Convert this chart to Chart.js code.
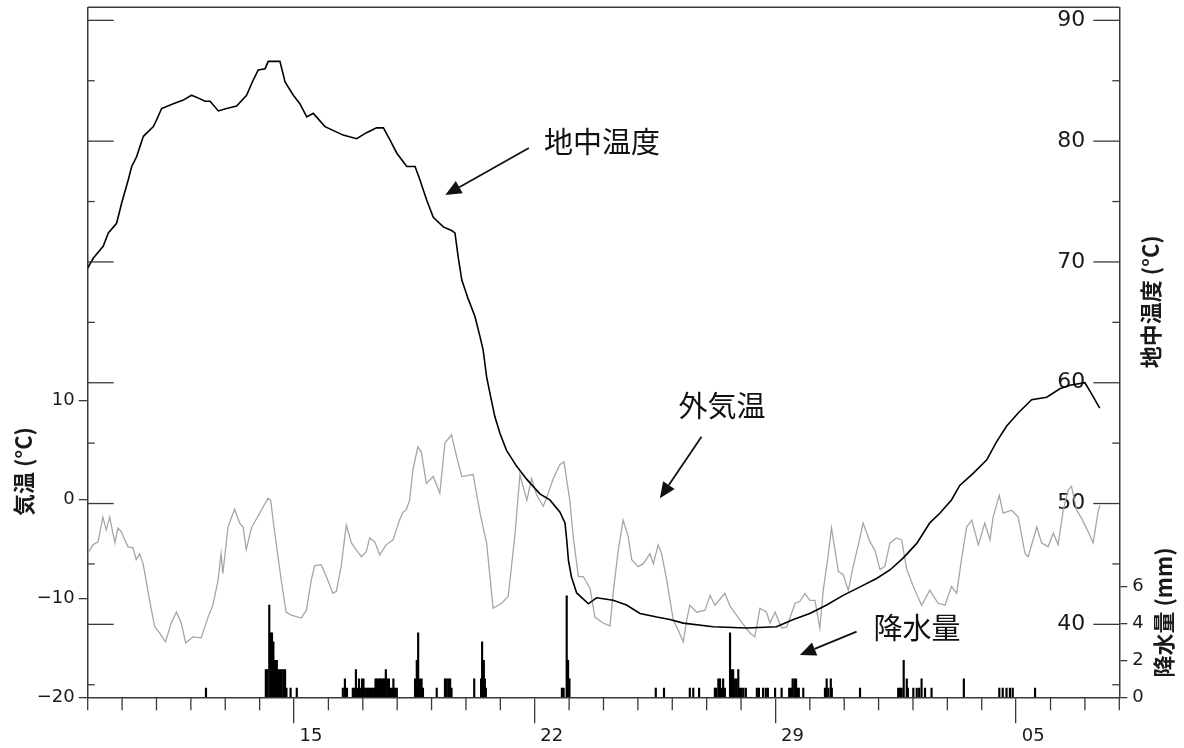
<!DOCTYPE html>
<html>
<head>
<meta charset="utf-8">
<script src="https://cdn.jsdelivr.net/npm/chart.js@4.4.1/dist/chart.umd.min.js"></script>
<style>
  body { margin: 0; background: #fff; }
  #wrap { width: 1184px; height: 748px; }
</style>
</head>
<body>
<div id="wrap"><canvas id="soil-chart" width="1184" height="748"></canvas></div>
<script>
// x values are days counted from the 9th, 00:00
const dateTicks = [6, 13, 20, 27];
const dateLabels = ['15', '22', '29', '05'];

const airTicks = [-20, -10, 0, 10];
const groundTicks = [40, 50, 60, 70, 80, 90];
const rainTicks = [0, 2, 4, 6];

const groundDays = [0.00, 0.16, 0.45, 0.60, 0.84, 0.99, 1.18, 1.28, 1.42, 1.62, 1.91, 2.01, 2.15, 2.49, 2.78, 3.02, 3.27, 3.41, 3.56, 3.80,
  4.04, 4.33, 4.62, 4.82, 4.96, 5.16, 5.25, 5.59, 5.74, 5.98, 6.17, 6.37, 6.56, 6.90, 7.43, 7.82, 8.11, 8.40, 8.60, 8.79,
  8.99, 9.28, 9.52, 9.66, 9.86, 10.05, 10.34, 10.58, 10.68, 10.78, 10.88, 11.07, 11.26, 11.41, 11.50, 11.60, 11.70, 11.84, 11.99, 12.18,
  12.47, 12.77, 13.15, 13.44, 13.73, 13.88, 13.93, 13.98, 14.07, 14.22, 14.56, 14.80, 15.28, 15.67, 16.06, 16.55, 16.93, 17.32, 18.19, 19.16,
  20.03, 20.52, 21.00, 21.49, 21.97, 22.46, 22.94, 23.33, 23.72, 24.11, 24.49, 24.78, 25.12, 25.36, 25.75, 26.14, 26.43, 26.72, 27.06, 27.45,
  27.89, 28.27, 28.56, 29.00, 29.19, 29.43];
const groundTemp = [69.5, 70.3, 71.3, 72.4, 73.2, 74.9, 76.8, 77.9, 78.7, 80.4, 81.2, 81.8, 82.7, 83.1, 83.4, 83.8, 83.5, 83.3, 83.3, 82.5,
  82.7, 82.9, 83.8, 85.1, 85.9, 86.0, 86.6, 86.6, 84.9, 83.8, 83.1, 82.0, 82.3, 81.2, 80.5, 80.2, 80.7, 81.1, 81.1, 80.1,
  79.0, 77.9, 77.9, 76.8, 75.1, 73.7, 72.9, 72.6, 72.4, 70.3, 68.5, 66.9, 65.5, 63.8, 62.7, 60.5, 59.1, 57.2, 55.8, 54.4,
  53.1, 52.0, 50.8, 50.3, 49.3, 48.4, 47.0, 45.3, 43.9, 42.6, 41.7, 42.2, 42.0, 41.6, 40.9, 40.6, 40.4, 40.1, 39.8, 39.7,
  39.8, 40.4, 40.9, 41.6, 42.4, 43.1, 43.8, 44.5, 45.5, 46.7, 48.4, 49.2, 50.3, 51.5, 52.5, 53.6, 55.1, 56.4, 57.5, 58.6,
  58.8, 59.5, 59.8, 60.0, 59.1, 57.9];

const airDays = [0.00, 0.15, 0.30, 0.44, 0.54, 0.64, 0.79, 0.88, 0.98, 1.17, 1.32, 1.41, 1.51, 1.61, 1.80, 1.95, 2.09, 2.26, 2.43, 2.58,
  2.72, 2.85, 3.06, 3.30, 3.50, 3.64, 3.79, 3.88, 3.93, 4.08, 4.27, 4.42, 4.52, 4.61, 4.76, 5.05, 5.24, 5.32, 5.44, 5.63,
  5.77, 5.92, 6.21, 6.36, 6.50, 6.60, 6.79, 6.94, 7.13, 7.23, 7.37, 7.52, 7.67, 7.81, 7.96, 8.10, 8.20, 8.35, 8.49, 8.68,
  8.88, 9.07, 9.17, 9.26, 9.36, 9.46, 9.60, 9.70, 9.85, 10.05, 10.24, 10.39, 10.58, 10.73, 10.88, 11.21, 11.41, 11.60, 11.79, 12.04,
  12.23, 12.43, 12.57, 12.77, 12.91, 13.06, 13.25, 13.39, 13.54, 13.73, 13.85, 14.02, 14.12, 14.27, 14.41, 14.61, 14.75, 14.99, 15.19, 15.28,
  15.43, 15.57, 15.72, 15.82, 16.01, 16.16, 16.35, 16.45, 16.59, 16.69, 16.84, 17.03, 17.17, 17.32, 17.42, 17.51, 17.71, 17.95, 18.10, 18.24,
  18.53, 18.68, 18.97, 19.26, 19.40, 19.55, 19.74, 19.84, 19.99, 20.18, 20.33, 20.57, 20.71, 20.86, 21.00, 21.15, 21.29, 21.39, 21.54, 21.63,
  21.73, 21.83, 21.97, 22.12, 22.26, 22.41, 22.55, 22.75, 22.89, 23.04, 23.18, 23.33, 23.52, 23.67, 23.82, 24.01, 24.25, 24.49, 24.73, 24.93,
  25.12, 25.27, 25.41, 25.56, 25.71, 25.90, 26.09, 26.24, 26.33, 26.51, 26.62, 26.87, 27.06, 27.26, 27.35, 27.60, 27.74, 27.93, 28.08, 28.22,
  28.37, 28.51, 28.61, 28.76, 28.90, 29.10, 29.24, 29.39, 29.44];
const airTemp = [-5.5, -4.6, -4.3, -1.8, -3.1, -1.8, -4.4, -2.9, -3.3, -4.8, -4.9, -6.1, -5.5, -6.5, -10.2, -12.9, -13.5, -14.4, -12.5, -11.4,
  -12.5, -14.5, -13.9, -14.0, -11.9, -10.7, -8.2, -5.5, -7.5, -2.8, -1.0, -2.4, -2.8, -5.1, -2.9, -1.1, 0.1, -0.1, -3.4, -8.2,
  -11.4, -11.7, -12.0, -11.2, -8.2, -6.7, -6.6, -7.8, -9.5, -9.3, -6.8, -2.6, -4.4, -5.1, -5.8, -5.3, -3.9, -4.3, -5.6, -4.6,
  -4.1, -2.1, -1.3, -1.1, -0.1, 3.0, 5.3, 4.8, 1.6, 2.3, 0.6, 5.7, 6.5, 4.3, 2.3, 2.5, -1.4, -4.4, -11.0, -10.5,
  -9.8, -3.4, 2.5, -0.1, 2.1, 0.4, -0.7, 0.6, 2.1, 3.5, 3.8, -0.1, -3.8, -7.8, -7.8, -9.0, -11.9, -12.5, -12.8, -9.5,
  -5.1, -2.1, -3.8, -6.1, -6.8, -6.5, -5.5, -6.5, -4.6, -5.5, -8.2, -12.2, -13.2, -14.4, -12.2, -10.7, -11.4, -11.2, -9.7, -10.7,
  -9.5, -10.8, -12.2, -13.5, -13.9, -11.0, -11.4, -12.5, -11.4, -13.0, -12.9, -10.5, -10.3, -9.5, -10.2, -10.2, -13.0, -9.2, -5.5, -2.9,
  -5.1, -7.3, -7.6, -9.2, -6.8, -4.6, -2.4, -4.3, -5.1, -7.1, -6.8, -4.4, -3.9, -4.1, -7.1, -8.8, -10.7, -9.2, -10.5, -10.7,
  -8.8, -9.5, -6.1, -2.8, -2.1, -4.6, -2.4, -4.1, -1.8, 0.4, -1.4, -1.1, -1.8, -5.5, -5.8, -2.8, -4.4, -4.8, -3.4, -4.6,
  -1.1, 0.9, 1.3, -1.1, -1.9, -3.3, -4.4, -1.1, -0.6];

const rainDays = [3.44, 5.18, 5.22, 5.28, 5.32, 5.36, 5.40, 5.45, 5.50, 5.54, 5.59, 5.64, 5.69, 5.74, 5.78, 5.90, 6.08,
  7.42, 7.48, 7.54, 7.71, 7.76, 7.80, 7.85, 7.89, 7.93, 7.98, 8.02, 8.06, 8.11, 8.15, 8.19, 8.24, 8.28, 8.33, 8.37, 8.41,
  8.46, 8.50, 8.54, 8.59, 8.63, 8.67, 8.72, 8.76, 8.80, 8.85, 8.89, 8.94, 8.99,
  9.52, 9.57, 9.61, 9.66, 9.71, 9.75, 10.15, 10.39, 10.44, 10.49, 10.54, 10.58, 11.24, 11.44, 11.47, 11.52, 11.55, 11.58,
  13.79, 13.84, 13.93, 13.97, 14.01, 16.52, 16.76, 17.51, 17.61, 17.78,
  18.24, 18.28, 18.34, 18.39, 18.44, 18.48, 18.53, 18.68, 18.73, 18.77, 18.82, 18.87, 18.92, 18.97, 19.02, 19.07, 19.14,
  19.46, 19.52, 19.64, 19.72, 19.78, 19.99, 20.18, 20.40, 20.45, 20.50, 20.55, 20.60, 20.65, 20.68, 20.81,
  21.44, 21.49, 21.54, 21.61, 21.64, 22.46, 23.57, 23.62, 23.67, 23.73, 23.82, 23.85,
  24.01, 24.11, 24.18, 24.25, 24.35, 24.54, 25.48, 26.51, 26.61, 26.72, 26.82, 26.90, 27.55];
const rainMm = [0.5, 1.5, 1.5, 5.0, 3.5, 3.5, 3.0, 2.0, 2.0, 1.5, 1.5, 1.5, 1.5, 1.5, 0.5, 0.5, 0.5,
  0.5, 1.0, 0.5, 0.5, 0.5, 1.5, 0.5, 1.0, 0.5, 1.0, 1.0, 0.5, 0.5, 0.5, 0.5, 0.5, 0.5, 0.5, 1.0, 1.0,
  1.0, 1.0, 1.0, 1.0, 1.0, 1.5, 1.0, 1.0, 0.5, 0.5, 1.0, 0.5, 0.5,
  1.0, 2.0, 3.5, 1.0, 1.0, 0.5, 0.5, 1.0, 1.0, 1.0, 1.0, 0.5, 1.0, 1.0, 3.0, 2.0, 1.0, 0.5,
  0.5, 0.5, 5.5, 2.0, 1.0, 0.5, 0.5, 0.5, 0.5, 0.5,
  0.5, 0.5, 1.0, 1.0, 0.5, 1.0, 0.5, 3.5, 1.5, 1.5, 1.0, 1.0, 1.5, 0.5, 0.5, 0.5, 0.5,
  0.5, 0.5, 0.5, 0.5, 0.5, 0.5, 0.5, 0.5, 0.5, 1.0, 1.0, 1.0, 0.5, 0.5, 0.5,
  0.5, 1.0, 0.5, 1.0, 0.5, 0.5, 0.5, 0.5, 0.5, 2.0, 1.0, 0.5,
  0.5, 0.5, 0.5, 1.0, 0.5, 0.5, 1.0, 0.5, 0.5, 0.5, 0.5, 0.5, 0.5];

const AXIS_COLOR = '#3a3a3a';
const TEXT_COLOR = '#1a1a1a';
const TICK_FONT = 'DejaVu Sans';
const CJK_FONT = '"Noto Sans CJK JP"';

// axis titles, placed against the scale they belong to
const axisTitles = [
  { text: '気温 (°C)', axis: 'yAir', value: 2.8, dx: -64 },
  { text: '地中温度 (°C)', axis: 'yGround', value: 66.7, dx: 31 },
  { text: '降水量 (mm)', axis: 'yRain', value: 4.6, dx: 44 }
];

// arrow labels in data coordinates [day, value]
const notes = [
  { text: '地中温度', axis: 'yGround', label: [13.27, 79.9], from: [12.83, 79.44], to: [10.40, 75.54] },
  { text: '外気温', axis: 'yAir', label: [17.18, 9.47], from: [17.85, 6.32], to: [16.64, 0.1] },
  { text: '降水量', axis: 'yRain', label: [22.85, 3.76], from: [22.36, 3.56], to: [20.71, 2.29] }
];

function line(ctx, x1, y1, x2, y2) {
  ctx.beginPath();
  ctx.moveTo(x1, y1);
  ctx.lineTo(x2, y2);
  ctx.stroke();
}

const frameAndNotes = {
  id: 'frameAndNotes',
  afterDraw(chart) {
    const { ctx, chartArea: area, scales } = chart;
    ctx.save();
    ctx.strokeStyle = AXIS_COLOR;
    ctx.lineWidth = 1.5;
    line(ctx, area.left, area.top, area.right, area.top);

    // short day ticks below the axis
    ctx.lineWidth = 1.3;
    for (let d = 0; d <= 30; d++) {
      if (dateTicks.includes(d)) continue;
      const x = scales.x.getPixelForValue(d);
      line(ctx, x, area.bottom, x, area.bottom + 13);
    }

    // soil temperature ticks point inwards on both frames
    for (let v = 35; v <= 90; v += 5) {
      const y = scales.yGround.getPixelForValue(v);
      const len = v % 10 === 0 ? 26 : 7;
      line(ctx, area.left, y, area.left + len, y);
      line(ctx, area.right - len, y, area.right, y);
    }

    ctx.fillStyle = TEXT_COLOR;
    ctx.font = 'bold 22px ' + CJK_FONT;
    ctx.textAlign = 'center';
    ctx.textBaseline = 'middle';
    axisTitles.forEach(function (t) {
      const x = t.dx < 0 ? area.left + t.dx : area.right + t.dx;
      const y = scales[t.axis].getPixelForValue(t.value);
      ctx.save();
      ctx.translate(x, y);
      ctx.rotate(-Math.PI / 2);
      ctx.fillText(t.text, 0, 0);
      ctx.restore();
    });

    ctx.font = '29px ' + CJK_FONT;
    ctx.textAlign = 'left';
    ctx.fillStyle = '#111';
    ctx.strokeStyle = '#111';
    ctx.lineWidth = 1.8;
    notes.forEach(function (n) {
      const ys = scales[n.axis];
      ctx.fillText(n.text, scales.x.getPixelForValue(n.label[0]), ys.getPixelForValue(n.label[1]));

      const x1 = scales.x.getPixelForValue(n.from[0]);
      const y1 = ys.getPixelForValue(n.from[1]);
      const x2 = scales.x.getPixelForValue(n.to[0]);
      const y2 = ys.getPixelForValue(n.to[1]);
      const len = Math.hypot(x2 - x1, y2 - y1);
      const ux = (x2 - x1) / len;
      const uy = (y2 - y1) / len;
      const bx = x2 - ux * 16;
      const by = y2 - uy * 16;
      line(ctx, x1, y1, bx, by);
      ctx.beginPath();
      ctx.moveTo(x2, y2);
      ctx.lineTo(bx - uy * 7, by + ux * 7);
      ctx.lineTo(bx + uy * 7, by - ux * 7);
      ctx.closePath();
      ctx.fill();
    });
    ctx.restore();
  }
};

function fixedTicks(values) {
  return function (axis) {
    axis.ticks = values.map(function (v) { return { value: v }; });
  };
}

// fixed box sizes so the plot frame lands where the original has it
function fixedSize(width, height) {
  return function (s) {
    if (width !== null) s.width = width;
    if (height !== null) s.height = height;
    s.paddingTop = 0;
    s.paddingBottom = 0;
    s.paddingLeft = 0;
    s.paddingRight = 0;
  };
}

const ctx = document.getElementById('soil-chart');
new Chart(ctx, {
  type: 'line',
  data: {
    datasets: [{
      label: '地中温度',
      data: groundDays.map(function (d, i) { return { x: d, y: groundTemp[i] }; }),
      yAxisID: 'yGround',
      borderColor: '#000',
      borderWidth: 1.6,
      pointRadius: 0,
      tension: 0
    }, {
      label: '外気温',
      data: airDays.map(function (d, i) { return { x: d, y: airTemp[i] }; }),
      yAxisID: 'yAir',
      borderColor: '#a6a6a6',
      borderWidth: 1.3,
      pointRadius: 0,
      tension: 0
    }, {
      type: 'bar',
      label: '降水量',
      data: rainDays.map(function (d, i) { return { x: d, y: rainMm[i] }; }),
      yAxisID: 'yRain',
      backgroundColor: '#000',
      borderWidth: 0,
      barThickness: 1.5,
      grouped: false
    }]
  },
  options: {
    responsive: false,
    animation: false,
    layout: { padding: { top: 7.3, left: 0, right: 0, bottom: 0 } },
    plugins: {
      legend: { display: false },
      tooltip: { enabled: false }
    },
    scales: {
      x: {
        type: 'linear',
        position: 'bottom',
        min: 0,
        max: 30,
        offset: false,
        afterBuildTicks: fixedTicks(dateTicks),
        afterFit: fixedSize(null, 50.7),
        grid: { offset: false, drawOnChartArea: false, tickLength: 26, color: AXIS_COLOR, lineWidth: 1.3 },
        border: { display: true, color: AXIS_COLOR, width: 1.5 },
        ticks: {
          autoSkip: false,
          maxRotation: 0,
          labelOffset: 17,
          padding: 2,
          color: TEXT_COLOR,
          font: { family: TICK_FONT, size: 18 },
          callback: function (value, index) { return dateLabels[index]; }
        }
      },
      yAir: {
        type: 'linear',
        position: 'left',
        min: -20,
        max: 49.7,
        afterBuildTicks: fixedTicks(airTicks),
        afterFit: fixedSize(87.7, null),
        grid: { drawOnChartArea: false, tickLength: 9, color: AXIS_COLOR, lineWidth: 1.3 },
        border: { display: true, color: AXIS_COLOR, width: 1.5 },
        ticks: {
          padding: 4,
          color: TEXT_COLOR,
          font: { family: TICK_FONT, size: 18 },
          callback: function (v) { return v < 0 ? '\u2212' + Math.abs(v) : String(v); }
        }
      },
      yGround: {
        type: 'linear',
        position: 'right',
        weight: 0,
        min: 33.96,
        max: 91.08,
        afterBuildTicks: fixedTicks(groundTicks),
        afterFit: fixedSize(0, null),
        grid: { display: false },
        border: { display: false },
        ticks: {
          mirror: true,
          padding: -34,
          color: TEXT_COLOR,
          font: { family: TICK_FONT, size: 22 }
        }
      },
      yRain: {
        type: 'linear',
        position: 'right',
        weight: 1,
        min: 0,
        max: 37.4,
        afterBuildTicks: fixedTicks(rainTicks),
        afterFit: fixedSize(64.7, null),
        grid: { drawOnChartArea: false, tickLength: 8, color: AXIS_COLOR, lineWidth: 1.3 },
        border: { display: true, color: AXIS_COLOR, width: 1.5 },
        ticks: {
          padding: 5,
          color: TEXT_COLOR,
          font: { family: TICK_FONT, size: 18 }
        }
      }
    }
  },
  plugins: [frameAndNotes]
});
</script>
</body>
</html>
